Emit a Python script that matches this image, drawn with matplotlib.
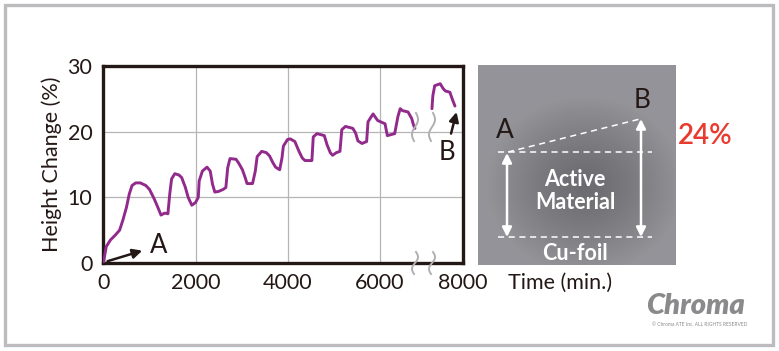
import numpy as np
import matplotlib
matplotlib.use("Agg")
import matplotlib.pyplot as plt
from matplotlib.patches import Rectangle

plt.rcParams['font.family'] = ['Lato', 'DejaVu Sans']

# height change curve (minutes, %)
seg1_x = [0, 60, 150, 250, 350, 420, 500, 560, 620, 700, 800, 920, 1000, 1100, 1180,
          1250, 1330, 1400, 1440, 1480, 1550, 1640, 1700, 1780, 1840, 1920, 2000, 2060,
          2080, 2150, 2250, 2320, 2370, 2420, 2500, 2600, 2660, 2700, 2750, 2880, 2940,
          3020, 3080, 3120, 3240, 3300, 3340, 3440, 3540, 3610, 3680, 3740, 3830, 3880,
          3910, 4000, 4060, 4160, 4250, 4320, 4380, 4530, 4560, 4640, 4800, 4860, 4930,
          4980, 5060, 5140, 5180, 5260, 5420, 5480, 5530, 5620, 5720, 5750, 5860, 5910,
          5960, 6120, 6170, 6330, 6400, 6450, 6500, 6620, 6700, 6740, 6770]
seg1_y = [0.1, 2.5, 3.5, 4.2, 5.0, 6.5, 8.5, 10.5, 11.8, 12.2, 12.2, 11.8, 11.2, 9.8, 8.5,
          7.3, 7.6, 7.5, 10.5, 12.8, 13.6, 13.4, 13.0, 11.5, 10.0, 8.8, 9.2, 10.0,
          12.5, 14.0, 14.6, 14.0, 12.0, 10.8, 10.9, 11.2, 11.5, 14.5, 15.9, 15.8, 15.2,
          14.2, 13.0, 12.1, 12.1, 14.0, 16.2, 17.0, 16.8, 16.3, 15.3, 14.6, 14.2, 16.0,
          17.8, 18.8, 18.9, 18.5, 17.0, 16.0, 15.6, 15.6, 19.2, 19.7, 19.4, 18.0, 16.8,
          16.4, 16.8, 17.0, 20.3, 20.8, 20.5, 19.8, 18.6, 18.2, 18.5, 21.5, 22.7, 22.2,
          21.7, 21.2, 19.4, 19.7, 22.3, 23.5, 23.2, 23.0, 22.0, 21.0, 20.5]
seg2_x = [7140, 7160, 7200, 7320, 7380, 7430, 7530, 7590, 7640]
seg2_y = [23.5, 25.5, 27.0, 27.3, 26.6, 26.2, 26.0, 24.8, 23.9]

xtick_labels = ['0', '2000', '4000', '6000', '8000']
ytick_vals = [0, 10, 20, 30]
x_end = 7815  # broken axis: right edge is labelled 8000

dark = '#231815'
purple = '#922a8c'

fig = plt.figure(figsize=(7.79, 3.51), dpi=100)
ax = fig.add_axes([103.5 / 779, 88 / 351, (463 - 103.5) / 779, (263 - 66) / 351])
ax.plot(seg1_x, seg1_y, color=purple, lw=2.1, solid_joinstyle='round',
        solid_capstyle='round', zorder=3)
ax.plot(seg2_x, seg2_y, color=purple, lw=2.1, solid_joinstyle='round',
        solid_capstyle='round', zorder=3)
ax.set_xlim(0, x_end)
ax.set_ylim(0, 30)
ax.set_xticks([0, 2000, 4000, 6000, x_end])
ax.set_xticklabels(xtick_labels)
ax.set_yticks(ytick_vals)
ax.tick_params(length=0, labelsize=15.5, colors=dark)
ax.tick_params(axis='y', pad=8)
ax.tick_params(axis='x', pad=7)
ax.grid(True, color='#b5b5b6', lw=0.9)
for s in ax.spines.values():
    s.set_color(dark)
    s.set_linewidth(2.4)
ax.set_ylabel('Height Change (%)', fontsize=15.5, color=dark, labelpad=4)

# arrows A and B
ax.annotate('', xy=(900, 2.0), xytext=(30, 0.15),
            arrowprops=dict(arrowstyle='-|>', color=dark, lw=1.8, mutation_scale=14),
            annotation_clip=False)
ax.text(1000, 2.6, 'A', fontsize=18.5, color=dark, va='center', ha='left')
ax.annotate('', xy=(7690, 23.4), xytext=(7540, 19.3),
            arrowprops=dict(arrowstyle='-|>', color=dark, lw=1.8, mutation_scale=14),
            annotation_clip=False)
ax.text(7470, 16.9, 'B', fontsize=18.5, color=dark, va='center', ha='center')

# decoration layer in pixel coordinates
deco = fig.add_axes([0, 0, 1, 1], zorder=5)
deco.set_xlim(0, 779)
deco.set_ylim(351, 0)
deco.axis('off')
deco.patch.set_alpha(0)

deco.add_patch(Rectangle((5, 4.5), 768.5, 340, fill=False, ec='#bcbcbe', lw=2.4))

# axis break squiggles
t = np.linspace(0, 1, 40)
for x0 in [416, 433]:
    for y0, h in [(113, 28), (252, 22)]:
        xs = x0 + 2.5 * np.sin(2 * np.pi * t) - 2 * t
        ys = y0 + h * t
        deco.plot(xs, ys, color='#b0b0b2', lw=1.4)

# gray panel with radial shading
gx, gy = np.meshgrid(np.linspace(478, 676, 200), np.linspace(65, 265, 200))
r = np.sqrt(((gx - 585) / 100) ** 2 + ((gy - 185) / 90) ** 2)
shade = 0.42 + 0.16 * np.clip(r, 0, 1) ** 1.3
rgb = np.dstack([shade, shade, shade + 0.02])
deco.imshow(rgb, extent=[478, 676, 265, 65], aspect='auto', zorder=1)

dash = dict(color='white', lw=1.1, ls=(0, (4, 3)), zorder=2)
deco.plot([498, 652], [152, 152], **dash)
deco.plot([498, 652], [237, 237], **dash)
deco.plot([508, 640], [152, 119], **dash)
for x, y1, y2 in [(507, 153, 237), (641, 119, 237)]:
    deco.annotate('', xy=(x, y1), xytext=(x, y2),
                  arrowprops=dict(arrowstyle='<|-|>', color='white', lw=1.8,
                                  mutation_scale=14, shrinkA=0, shrinkB=0), zorder=3)

deco.text(505, 131, 'A', fontsize=19, color=dark, ha='center', va='center')
deco.text(642, 101, 'B', fontsize=19, color=dark, ha='center', va='center')
deco.text(705, 136, '24%', fontsize=20, color='#e83a2e', fontweight='semibold',
          ha='center', va='center')
deco.text(575, 191, 'Active\nMaterial', fontsize=15.5, color='white', fontweight='bold',
          ha='center', va='center', linespacing=1.1)
deco.text(575, 253, 'Cu-foil', fontsize=15.5, color='white', fontweight='bold',
          ha='center', va='center')
deco.text(560, 283, 'Time (min.)', fontsize=15.5, color=dark, ha='center', va='center')

# logo
deco.text(695, 306, 'Chroma', fontsize=21, color='#8a8a8c', fontweight='heavy',
          style='italic', ha='center', va='center')
deco.text(700, 325, '\u00a9 Chroma ATE Inc. ALL RIGHTS RESERVED', fontsize=3.5,
          color='#8a8a8c', ha='center', va='center')

fig.savefig('out.png', dpi=100)
